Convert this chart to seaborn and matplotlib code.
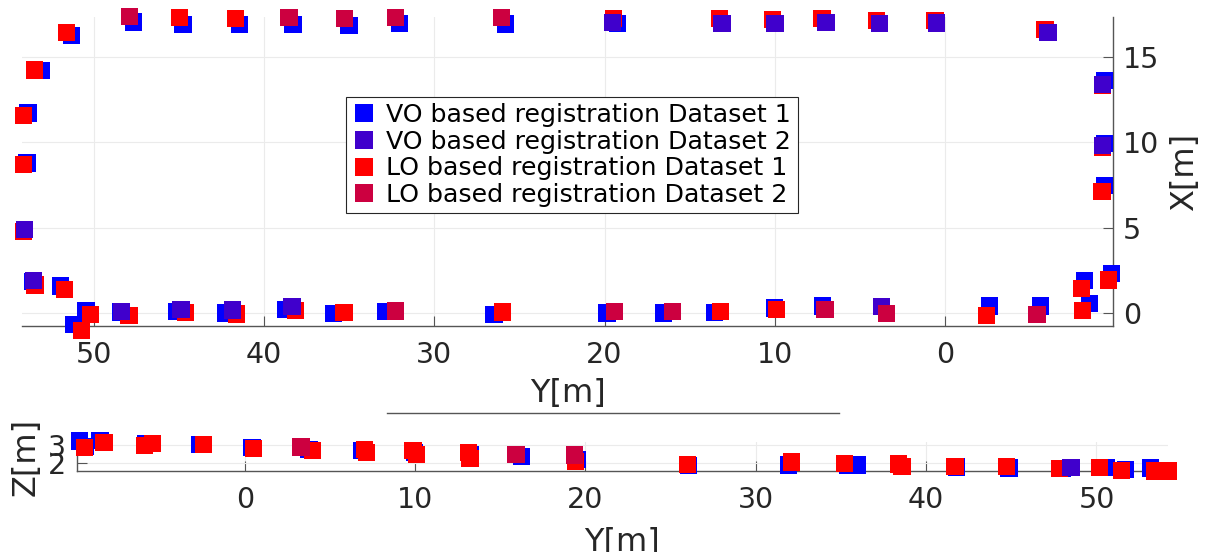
import pandas as pd
import seaborn as sns
import matplotlib.pyplot as plt
from matplotlib.lines import Line2D

series_names = ['VO based registration Dataset 1', 'VO based registration Dataset 2',
                'LO based registration Dataset 1', 'LO based registration Dataset 2']
series_colors = ['#0000ff', '#4000cc', '#ff0000', '#cc0040']

# Вид сверху: Y (горизонталь) и X (вертикаль), м
vo1_y = [47.65, 44.75, 41.45, 38.29, 35.0, 32.05, 25.8, 19.24,
         -9.35, -9.37, -9.34, -9.77, -8.16, -8.48,
         -5.59, -2.61, 7.21, 10.02, 13.54, 16.52, 19.85, 26.49, 32.83, 35.92,
         38.74, 42.24, 45.12, 48.43, 50.45, 51.18, 51.92,
         53.6, 53.91, 53.84, 53.08, 51.3]
vo1_x = [17.04, 16.9, 16.9, 16.9, 16.86, 16.95, 16.93, 16.98,
         13.6, 9.92, 7.45, 2.31, 1.9, 0.54,
         0.42, 0.42, 0.42, 0.3, 0.03, 0.0, 0.0, -0.1, 0.08, -0.02,
         0.2, 0.0, 0.08, 0.06, 0.16, -0.68, 1.59,
         1.85, 8.79, 11.72, 14.22, 16.26]

lo1_y = [44.96, 41.67, 19.49, 13.24, 10.13, 7.24, 4.04, 0.6, -5.85,
         -9.22, -9.24, -9.21, -9.57, -8.0, -8.05,
         -2.42, 9.92, 13.18, 26.0, 35.29, 38.16, 41.61, 44.6, 47.92, 50.16,
         50.69, 51.71, 53.43,
         54.1, 54.13, 54.1, 53.45, 51.58]
lo1_x = [17.3, 17.25, 17.27, 17.24, 17.18, 17.25, 17.15, 17.14, 16.6,
         13.35, 9.69, 7.13, 1.93, 1.45, 0.16,
         -0.16, 0.2, 0.08, 0.06, 0.02, 0.15, -0.05, 0.02, -0.13, -0.1,
         -1.01, 1.36, 1.64,
         4.77, 8.71, 11.55, 14.23, 16.42]

vo2_y = [19.53, 13.1, 10.0, 7.0, 3.86, 0.5, -6.03,
         -9.25, -9.23,
         3.76, 38.35, 41.85, 44.87, 48.34,
         53.53, 54.04]
vo2_x = [17.0, 16.98, 16.95, 17.0, 16.95, 16.99, 16.44,
         13.4, 9.81,
         0.37, 0.38, 0.18, 0.19, 0.1,
         1.9, 4.9]

lo2_y = [47.9, 38.53, 35.25, 32.29, 26.03,
         -5.38, 3.43, 7.05, 16.01, 19.4, 32.29]
lo2_x = [17.35, 17.3, 17.25, 17.3, 17.32,
         -0.07, -0.02, 0.19, 0.09, 0.1, 0.12]

# Вид сбоку: Y и Z, м
vo1_side_y = [-9.72, -9.34, -8.5, -5.82, -2.64, 0.42, 3.77, 6.89, 9.95, 13.24,
              16.23, 19.5, 26.04, 31.9, 35.41, 35.95, 38.54, 41.8, 44.87, 48.0,
              50.6, 51.69, 53.18]
vo1_side_z = [3.22, 2.9, 3.25, 3.08, 3.02, 2.86, 2.75, 2.69, 2.58, 2.44,
              2.35, 2.18, 1.85, 1.89, 1.89, 1.89, 1.81, 1.78, 1.73, 1.71,
              1.75, 1.65, 1.73]

lo1_side_y = [-9.4, -8.27, -5.88, -5.43, -2.42, 0.53, 3.98, 7.04, 7.16, 9.87,
              10.07, 13.15, 13.23, 19.41, 25.98, 32.1, 35.21, 38.39, 38.58, 41.7,
              44.72, 47.85, 50.17, 51.46, 53.43, 54.25]
lo1_side_z = [2.85, 3.14, 2.98, 3.1, 3.04, 2.79, 2.69, 2.75, 2.57, 2.69,
              2.47, 2.57, 2.25, 2.09, 1.93, 2.06, 1.98, 1.94, 1.81, 1.79,
              1.82, 1.68, 1.75, 1.58, 1.56, 1.56]

vo2_side_y = [48.5]
vo2_side_z = [1.75]

lo2_side_y = [3.3, 15.93, 19.34]
lo2_side_z = [2.89, 2.49, 2.44]

# порядок отрисовки: VO1, LO1, VO2, LO2
top_df = pd.concat([
    pd.DataFrame({'Y': vo1_y, 'X': vo1_x, 'series': series_names[0]}),
    pd.DataFrame({'Y': lo1_y, 'X': lo1_x, 'series': series_names[2]}),
    pd.DataFrame({'Y': vo2_y, 'X': vo2_x, 'series': series_names[1]}),
    pd.DataFrame({'Y': lo2_y, 'X': lo2_x, 'series': series_names[3]}),
], ignore_index=True)
side_df = pd.concat([
    pd.DataFrame({'Y': vo1_side_y, 'Z': vo1_side_z, 'series': series_names[0]}),
    pd.DataFrame({'Y': lo1_side_y, 'Z': lo1_side_z, 'series': series_names[2]}),
    pd.DataFrame({'Y': vo2_side_y, 'Z': vo2_side_z, 'series': series_names[1]}),
    pd.DataFrame({'Y': lo2_side_y, 'Z': lo2_side_z, 'series': series_names[3]}),
], ignore_index=True)
palette = dict(zip(series_names, series_colors))

plt.rcParams['font.family'] = ['DejaVu Sans']
text_col = '#262626'
spine_col = '#555555'

fig = plt.figure(figsize=(12.05, 5.52), dpi=100)
ax_top = fig.add_axes([22 / 1205, 226 / 552, 1091 / 1205, 309 / 552])
ax_bot = fig.add_axes([77 / 1205, 81 / 552, 1091 / 1205, 29 / 552])

sns.scatterplot(data=top_df, x='Y', y='X', hue='series', palette=palette, marker='s',
                s=155, linewidth=0, legend=False, ax=ax_top, clip_on=False, zorder=3)
sns.scatterplot(data=side_df, x='Y', y='Z', hue='series', palette=palette, marker='s',
                s=155, linewidth=0, legend=False, ax=ax_bot, clip_on=False, zorder=3)

# верхний график (вид сверху)
ax_top.set_xlim(54.2, -9.85)
ax_top.set_ylim(-0.76, 17.34)
ax_top.set_xticks([50, 40, 30, 20, 10, 0])
ax_top.set_yticks([0, 5, 10, 15])
ax_top.yaxis.tick_right()
ax_top.yaxis.set_label_position('right')
ax_top.spines['left'].set_visible(False)
ax_top.spines['top'].set_visible(False)
ax_top.set_xlabel('Y[m]', fontsize=23, color=text_col, labelpad=6)
ax_top.set_ylabel('X[m]', fontsize=23, color=text_col, labelpad=7)
ax_top.tick_params(axis='x', direction='in', length=7, pad=11, labelsize=20.5,
                   colors=spine_col, labelcolor=text_col)
ax_top.tick_params(axis='y', direction='in', length=7, pad=7, labelsize=20.5,
                   colors=spine_col, labelcolor=text_col, left=False, right=True)

# нижний график (вид сбоку)
ax_bot.set_xlim(-9.85, 54.2)
ax_bot.set_ylim(1.556, 3.17)
ax_bot.set_xticks([0, 10, 20, 30, 40, 50])
ax_bot.set_yticks([2, 3])
ax_bot.spines['right'].set_visible(False)
ax_bot.spines['top'].set_visible(False)
ax_bot.set_xlabel('Y[m]', fontsize=23, color=text_col, labelpad=9)
ax_bot.set_ylabel('Z[m]', fontsize=23, color=text_col, labelpad=4)
ax_bot.tick_params(axis='x', direction='in', length=7, pad=11, labelsize=20.5,
                   colors=spine_col, labelcolor=text_col)
ax_bot.tick_params(axis='y', direction='in', length=7, pad=8, labelsize=20.5,
                   colors=spine_col, labelcolor=text_col)

for ax in (ax_top, ax_bot):
    ax.grid(True, color='#ebebeb', linewidth=0.8)
    ax.set_axisbelow(True)
    for sp in ax.spines.values():
        sp.set_color(spine_col)
        sp.set_linewidth(1)

# легенда
handles = [Line2D([], [], linestyle='', marker='s', markersize=13, markerfacecolor=c,
                  markeredgewidth=0) for c in series_colors]
leg = fig.legend(handles, series_names, loc='upper left',
                 bbox_to_anchor=(346 / 1205, 1 - 97 / 552), fontsize=18.2,
                 frameon=True, fancybox=False, edgecolor=text_col, framealpha=1,
                 borderpad=0.25, labelspacing=0.1, handlelength=0.9,
                 handletextpad=0.45, borderaxespad=0)
leg.get_frame().set_linewidth(0.8)

# линия между графиками
fig.add_artist(Line2D([387 / 1205, 839 / 1205], [1 - 413 / 552, 1 - 413 / 552],
                      transform=fig.transFigure, color=spine_col, linewidth=1))

fig.savefig('out.png', dpi=100)
